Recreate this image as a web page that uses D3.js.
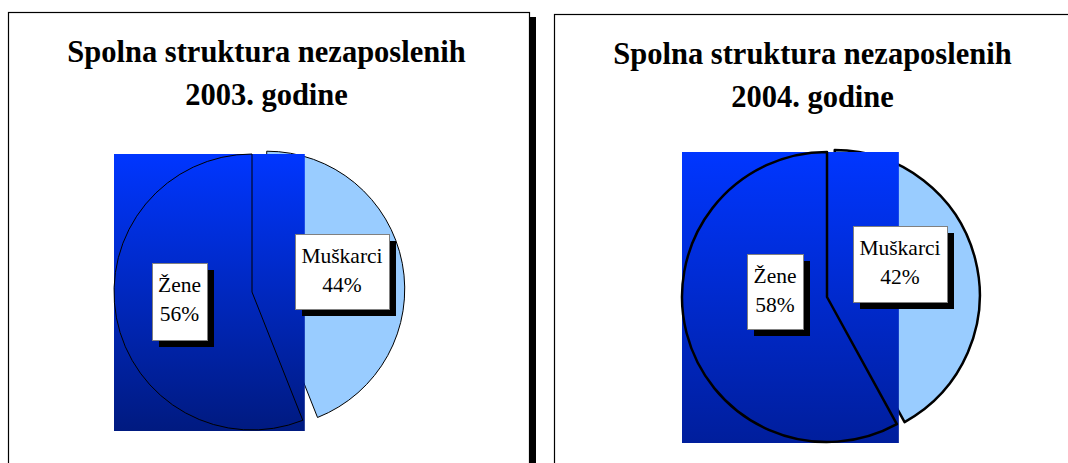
<!DOCTYPE html>
<html>
<head>
<meta charset="utf-8">
<script src="https://cdn.jsdelivr.net/npm/d3@7"></script>
<style>
  body { margin: 0; background: #fff; }
  svg { display: block; }
</style>
</head>
<body>
<div id="chart"></div>
<script>
// data
const categories = ["Muškarci", "Žene"];
const years = ["2003", "2004"];
const shares2003 = [44, 56];
const shares2004 = [42, 58];
const titleLine1 = "Spolna struktura nezaposlenih";

const width = 1068, height = 463;

const svg = d3.select("#chart").append("svg")
  .attr("width", width)
  .attr("height", height);

// panel layouts
const panels = [
  { year: years[0], values: shares2003, x: 8, y: 12, w: 521, cx: 252, cy: 292, r: 138, explode: 15, sw: 1,
    gradTop: "#0036ff", gradBottom: "#001a80",
    boxes: [{ x: 295, y: 234, w: 94, h: 75 }, { x: 152, y: 263, w: 55, h: 77 }] },
  { year: years[1], values: shares2004, x: 554, y: 14, w: 521, cx: 827, cy: 297, r: 145, explode: 8, sw: 2.5,
    gradTop: "#0036ff", gradBottom: "#001e9c",
    boxes: [{ x: 853, y: 226, w: 94, h: 76 }, { x: 747, y: 254, w: 56, h: 75 }] }
];

const defs = svg.append("defs");

// shadow of the first frame
svg.append("rect")
  .attr("x", 529).attr("y", 17)
  .attr("width", 7).attr("height", height)
  .attr("fill", "#000");

panels.forEach((p, i) => {
  const g = svg.append("g");

  // frame
  g.append("rect")
    .attr("x", p.x + 0.5).attr("y", p.y + 0.5)
    .attr("width", p.w).attr("height", height + 20)
    .attr("fill", "#fff")
    .attr("stroke", "#000")
    .attr("stroke-width", 1.2);

  // title
  const title = g.append("text")
    .attr("text-anchor", "middle")
    .attr("font-family", "Liberation Serif, Times New Roman, serif")
    .attr("font-weight", "bold")
    .attr("font-size", 30.5)
    .attr("fill", "#000");
  title.append("tspan").attr("x", p.x + p.w / 2 - 2).attr("y", p.y + 50).text(titleLine1);
  title.append("tspan").attr("x", p.x + p.w / 2 - 2).attr("y", p.y + 93).text(p.year + ". godine");

  // gradient
  const grad = defs.append("linearGradient")
    .attr("id", "grad" + i)
    .attr("x1", 0).attr("y1", 0).attr("x2", 0).attr("y2", 1);
  grad.append("stop").attr("offset", 0).attr("stop-color", p.gradTop);
  grad.append("stop").attr("offset", 1).attr("stop-color", p.gradBottom);

  const pie = d3.pie().sort(null).value(d => d)(p.values);
  const arc = d3.arc().innerRadius(0).outerRadius(p.r);

  // Muškarci slice, pulled out along its mid angle
  const m = pie[0];
  const mid = (m.startAngle + m.endAngle) / 2;
  const dx = Math.sin(mid) * p.explode, dy = -Math.cos(mid) * p.explode;
  g.append("path")
    .attr("d", arc(m))
    .attr("transform", `translate(${p.cx + dx},${p.cy + dy})`)
    .attr("fill", "#99ccff")
    .attr("stroke", "#000")
    .attr("stroke-width", p.sw)
    .attr("stroke-linejoin", "round");

  // Žene slice: gradient filled over its bounding box, then outline
  const zGroup = g.append("g").attr("transform", `translate(${p.cx},${p.cy})`);
  const rectSel = zGroup.append("rect");
  const zPath = zGroup.append("path")
    .attr("d", arc(pie[1]))
    .attr("fill", "none")
    .attr("stroke", "#000")
    .attr("stroke-width", p.sw)
    .attr("stroke-linejoin", "round");
  const bb = zPath.node().getBBox();
  rectSel
    .attr("x", bb.x).attr("y", bb.y)
    .attr("width", bb.width + 2).attr("height", bb.height + 1)
    .attr("fill", `url(#grad${i})`);

  // labels
  categories.forEach((c, k) => {
    const b = p.boxes[k];
    const lg = g.append("g");
    lg.append("rect")
      .attr("x", b.x + 7).attr("y", b.y + 7)
      .attr("width", b.w).attr("height", b.h)
      .attr("fill", "#000");
    lg.append("rect")
      .attr("x", b.x + 0.5).attr("y", b.y + 0.5)
      .attr("width", b.w).attr("height", b.h)
      .attr("fill", "#fff")
      .attr("stroke", "#808080")
      .attr("stroke-width", 1);
    const t = lg.append("text")
      .attr("text-anchor", "middle")
      .attr("font-family", "Liberation Serif, Times New Roman, serif")
      .attr("font-size", 21.5)
      .attr("fill", "#000");
    t.append("tspan").attr("x", b.x + b.w / 2).attr("y", b.y + 29).text(c);
    t.append("tspan").attr("x", b.x + b.w / 2).attr("y", b.y + 58).text(p.values[k] + "%");
  });
});
</script>
</body>
</html>
